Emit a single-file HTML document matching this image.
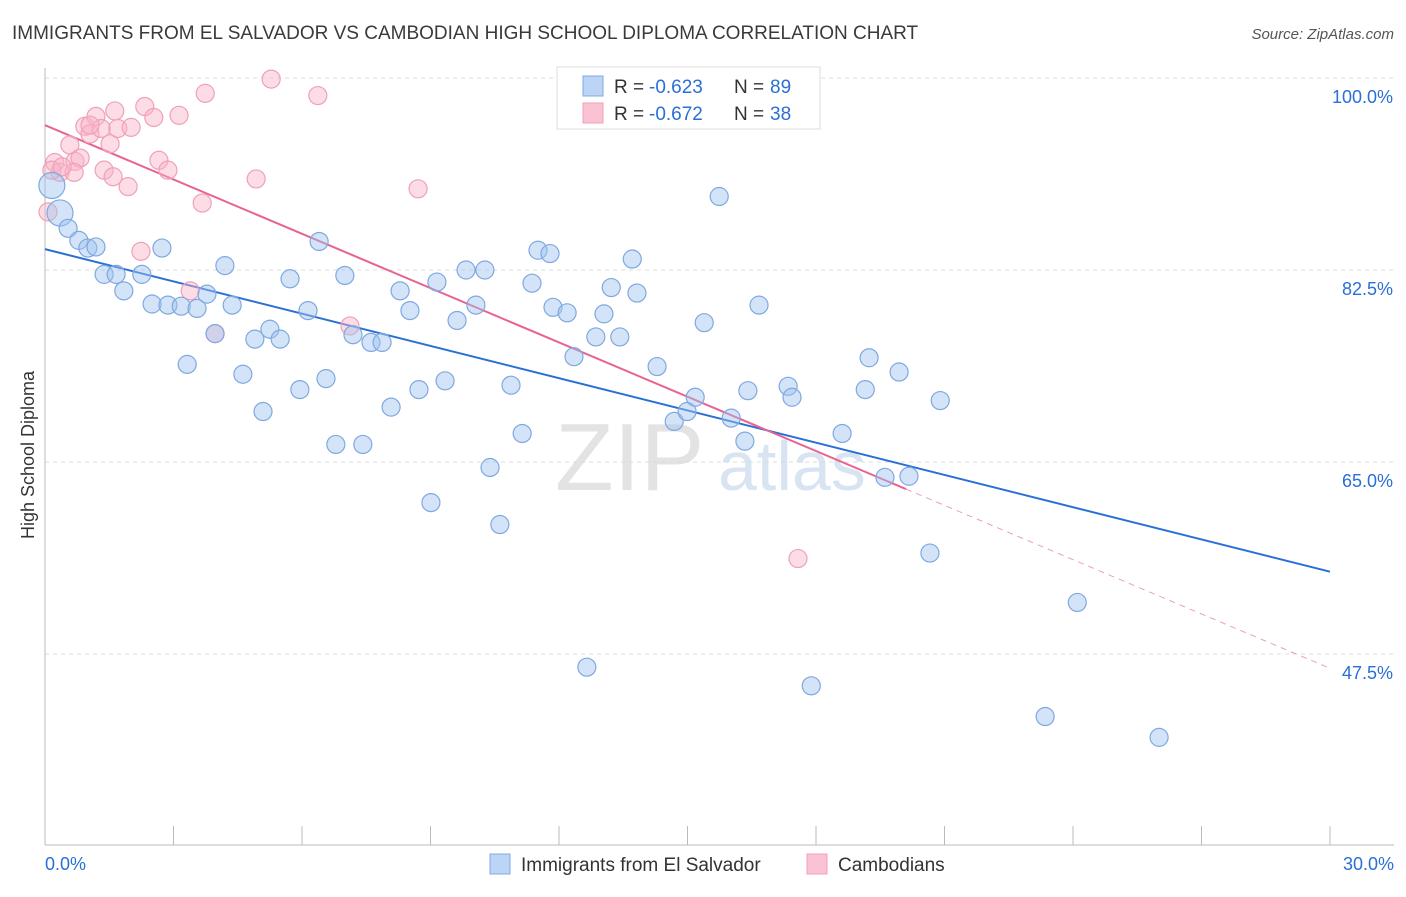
<!DOCTYPE html>
<html><head><meta charset="utf-8"><style>
body{margin:0;background:#fff;font-family:"Liberation Sans",sans-serif;}
svg text{font-family:"Liberation Sans",sans-serif;}
</style></head><body>
<svg id="chart" width="1406" height="892" viewBox="0 0 1406 892" xmlns="http://www.w3.org/2000/svg">
<text x="12" y="39" font-size="19" fill="#3a3a3a">IMMIGRANTS FROM EL SALVADOR VS CAMBODIAN HIGH SCHOOL DIPLOMA CORRELATION CHART</text>
<text x="1394" y="39" font-size="15" fill="#555" font-style="italic" text-anchor="end">Source: ZipAtlas.com</text>
<g id="grid"></g>
<g>
<text x="555" y="490" font-size="96" fill="#d8d8d8" font-family="Liberation Serif" opacity="0.7">ZIP</text>
<text x="718" y="490" font-size="70" fill="#c9d9ef" opacity="0.7">atlas</text>
</g>
<g id="axes"></g>
<g id="lines"></g>
<g id="points"></g>
<text transform="translate(34,455) rotate(-90)" font-size="18" fill="#333" text-anchor="middle">High School Diploma</text>
<g>
<rect x="557" y="67" width="263" height="62" fill="#fff" stroke="#ddd"/>
<rect x="583" y="76" width="20" height="20" fill="#bcd5f6" stroke="#7fa8e0"/>
<rect x="583" y="103" width="20" height="20" fill="#f9c3d3" stroke="#f0a0b8"/>
<text x="614" y="93" font-size="19" fill="#333">R =</text>
<text x="649" y="93" font-size="19" fill="#2a6fd6">-0.623</text>
<text x="734" y="93" font-size="19" fill="#333">N =</text>
<text x="770" y="93" font-size="19" fill="#2a6fd6">89</text>
<text x="614" y="120" font-size="19" fill="#333">R =</text>
<text x="649" y="120" font-size="19" fill="#2a6fd6">-0.672</text>
<text x="734" y="120" font-size="19" fill="#333">N =</text>
<text x="770" y="120" font-size="19" fill="#2a6fd6">38</text>
</g>
<g>
<rect x="490" y="854" width="20" height="20" fill="#bcd5f6" stroke="#7fa8e0"/>
<text x="521" y="871" font-size="19" fill="#333">Immigrants from El Salvador</text>
<rect x="807" y="854" width="20" height="20" fill="#f9c3d3" stroke="#f0a0b8"/>
<text x="838" y="871" font-size="19" fill="#333">Cambodians</text>
</g>
</svg>
<script>
const yTicks=[100,82.5,65,47.5];
const yTickLabels=["100.0%","82.5%","65.0%","47.5%"];
const xTickLabels=["0.0%","30.0%"];
const blueX=[0.16,0.35,0.54,0.79,1.0,1.19,1.38,1.66,2.26,1.84,2.50,2.87,3.18,3.55,2.73,3.78,4.20,4.37,3.32,3.97,4.62,4.90,5.25,5.49,5.09,5.72,5.95,6.14,6.40,6.56,6.79,7.00,7.19,7.42,7.61,7.87,8.08,8.29,8.52,8.73,9.01,9.15,9.34,9.62,9.83,10.06,10.27,10.39,10.62,10.88,11.14,11.37,11.51,11.79,11.86,12.19,12.35,12.65,12.86,13.05,13.22,13.42,13.71,13.82,14.29,14.69,14.99,15.18,15.39,15.74,16.02,16.34,16.41,16.67,17.35,17.44,17.89,18.61,19.15,19.24,19.61,19.94,20.17,20.66,20.90,23.35,24.10,26.01];
const blueY=[90.2,87.7,86.3,85.2,84.5,84.6,82.1,82.1,82.1,80.6,79.4,79.3,79.2,79.0,84.5,80.3,82.9,79.3,73.9,76.7,73.0,76.2,77.1,76.2,69.6,81.7,71.6,78.8,85.1,72.6,66.6,82.0,76.6,66.6,75.9,75.9,70.0,80.6,78.8,71.6,61.3,81.4,72.4,77.9,82.5,79.3,82.5,64.5,59.3,72.0,67.6,81.3,84.3,84.0,79.1,78.6,74.6,46.3,76.4,78.5,80.9,76.4,83.5,80.4,73.7,68.7,69.6,70.9,77.7,89.2,69.0,66.9,71.5,79.3,71.9,70.9,44.6,67.6,71.6,74.5,63.6,73.2,63.7,56.7,70.6,41.8,52.2,39.9];
const pinkX=[0.07,0.23,0.35,0.58,0.70,0.82,0.68,0.93,1.05,1.19,1.31,1.38,1.52,1.59,1.63,1.70,1.94,2.01,2.24,2.33,2.54,2.66,2.87,3.13,3.39,3.67,3.74,3.97,4.93,5.28,6.37,7.12,8.71,17.58,0.16,1.05,0.40];
const pinkY=[87.8,92.3,91.4,93.9,92.4,92.7,91.4,95.6,94.9,96.5,95.4,91.6,94.0,91.0,97.0,95.4,90.1,95.5,84.2,97.4,96.4,92.5,91.6,96.6,80.6,88.6,98.6,76.7,90.8,99.9,98.4,77.4,89.9,56.2,91.6,95.7,91.9];
const blueLine=[84.4,55.0];
const pinkLine=[95.7,46.2];
const pinkSolidEnd=20.1;

const NS="http://www.w3.org/2000/svg";
const X=v=>45+v/30*1285;
const Y=v=>78+(100-v)*192/17.5;
function mk(tag,attrs,parent){const e=document.createElementNS(NS,tag);for(const k in attrs)e.setAttribute(k,attrs[k]);parent.appendChild(e);return e;}
const grid=document.getElementById('grid'),axes=document.getElementById('axes'),lines=document.getElementById('lines'),pts=document.getElementById('points');
yTicks.forEach((t,i)=>{
 const l=mk('line',{x1:45,x2:1394,y1:Y(t),y2:Y(t),stroke:'#ddd','stroke-dasharray':'4,4'},grid);
 
 
 const tx=mk('text',{x:1393,y:Y(t)+25,'font-size':18,fill:'#2a6fd6','text-anchor':'end'},axes);
 tx.textContent=yTickLabels[i];
 
 
});
const xa=mk('line',{x1:45,x2:1394,y1:845,y2:845,stroke:'#bbb'},axes);


const ya=mk('line',{x1:45,x2:45,y1:68,y2:845,stroke:'#bbb'},axes);


for(let v=3;v<=30;v+=3){
 const t=mk('line',{x1:X(v),x2:X(v),y1:826,y2:845,stroke:'#bbb'},axes);
 
 
}
const xl0=mk('text',{x:45,y:870,'font-size':18,fill:'#2a6fd6'},axes);xl0.textContent=xTickLabels[0];


const xl1=mk('text',{x:1394,y:870,'font-size':18,fill:'#2a6fd6','text-anchor':'end'},axes);xl1.textContent=xTickLabels[1];



function drawPts(xs,ys,fill,stroke,name){
 xs.forEach((x,i)=>{
  const r=(name==='blue-point'&&i<2)?13:9;
  const c=mk('circle',{cx:X(x),cy:Y(ys[i]),r:r,fill:fill,stroke:stroke,'stroke-width':1.2},pts);
  
  
 });
}
drawPts(pinkX,pinkY,'rgba(248,180,200,0.45)','#f0a0b8','pink-point');
drawPts(blueX,blueY,'rgba(160,196,240,0.45)','#7fa8e0','blue-point');
const bl=mk('line',{x1:X(0),y1:Y(blueLine[0]),x2:X(30),y2:Y(blueLine[1]),stroke:'#2a6fd6','stroke-width':2},lines);


const pAt=x=>pinkLine[0]+(pinkLine[1]-pinkLine[0])*x/30;
const pl=mk('line',{x1:X(0),y1:Y(pinkLine[0]),x2:X(pinkSolidEnd),y2:Y(pAt(pinkSolidEnd)),stroke:'#e8638f','stroke-width':2},lines);


const pd=mk('line',{x1:X(pinkSolidEnd),y1:Y(pAt(pinkSolidEnd)),x2:X(30),y2:Y(pinkLine[1]),stroke:'#e8a0b8','stroke-width':1,'stroke-dasharray':'6,5'},lines);


</script>
</body></html>
